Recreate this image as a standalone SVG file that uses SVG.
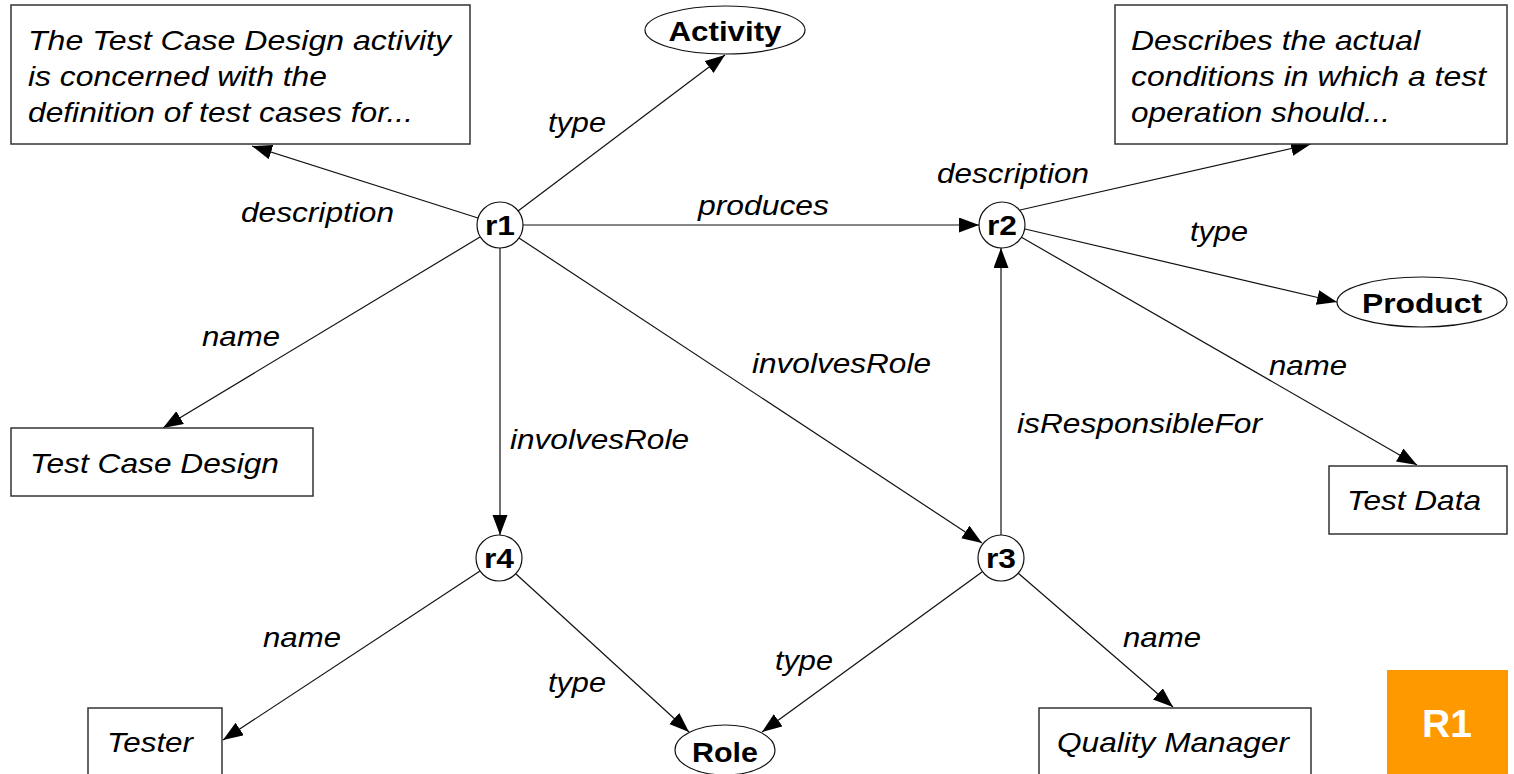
<svg xmlns="http://www.w3.org/2000/svg" width="1514" height="774" viewBox="0 0 1514 774">
<style>
.box{fill:#fff;stroke:#333;stroke-width:1.5}
.node{fill:#fff;stroke:#111;stroke-width:1.2}
.edge{stroke:#111;stroke-width:1.2;fill:none;marker-end:url(#arr)}
.t{font-family:"Liberation Sans",Arial,sans-serif;font-size:28px;font-style:italic;fill:#000}
.b{font-family:"Liberation Sans",Arial,sans-serif;font-size:28px;font-weight:bold;fill:#000}
.lbl{font-family:"Liberation Sans",Arial,sans-serif;font-size:28px;font-style:italic;fill:#000}
</style>
<defs>
<marker id="arr" markerUnits="userSpaceOnUse" markerWidth="21" markerHeight="16" refX="20" refY="7.5" orient="auto">
<path d="M0,0 L20,7.5 L0,15 z" fill="#000"/>
</marker>
</defs>
<rect width="1514" height="774" fill="#fff"/>

<g id="connectors">
<line class="edge" x1="478" y1="218" x2="252" y2="146"/>
<line class="edge" x1="518" y1="211" x2="725" y2="55"/>
<line class="edge" x1="523" y1="225" x2="979" y2="225"/>
<line class="edge" x1="480" y1="237" x2="163" y2="428"/>
<line class="edge" x1="500" y1="248" x2="500" y2="535"/>
<line class="edge" x1="519" y1="238" x2="982" y2="543"/>
<line class="edge" x1="1001" y1="535" x2="1001" y2="248"/>
<line class="edge" x1="1020" y1="210" x2="1311" y2="144"/>
<line class="edge" x1="1025" y1="229" x2="1337" y2="302"/>
<line class="edge" x1="1021" y1="237" x2="1417" y2="465"/>
<line class="edge" x1="480" y1="571" x2="223" y2="740"/>
<line class="edge" x1="516" y1="574" x2="689" y2="732"/>
<line class="edge" x1="982" y1="572" x2="762" y2="732"/>
<line class="edge" x1="1018" y1="573" x2="1173" y2="707"/>
<g id="edge-labels">
<text class="lbl" x="241" y="222" textLength="153" lengthAdjust="spacingAndGlyphs">description</text>
<text class="lbl" x="548" y="132" textLength="58" lengthAdjust="spacingAndGlyphs">type</text>
<text class="lbl" x="698" y="215" textLength="131" lengthAdjust="spacingAndGlyphs">produces</text>
<text class="lbl" x="202" y="346" textLength="78" lengthAdjust="spacingAndGlyphs">name</text>
<text class="lbl" x="510" y="449" textLength="179" lengthAdjust="spacingAndGlyphs">involvesRole</text>
<text class="lbl" x="752" y="373" textLength="179" lengthAdjust="spacingAndGlyphs">involvesRole</text>
<text class="lbl" x="937" y="183" textLength="152" lengthAdjust="spacingAndGlyphs">description</text>
<text class="lbl" x="1190" y="241" textLength="58" lengthAdjust="spacingAndGlyphs">type</text>
<text class="lbl" x="1269" y="375" textLength="78" lengthAdjust="spacingAndGlyphs">name</text>
<text class="lbl" x="1017" y="433" textLength="245" lengthAdjust="spacingAndGlyphs">isResponsibleFor</text>
<text class="lbl" x="263" y="647" textLength="78" lengthAdjust="spacingAndGlyphs">name</text>
<text class="lbl" x="548" y="692" textLength="58" lengthAdjust="spacingAndGlyphs">type</text>
<text class="lbl" x="775" y="670" textLength="58" lengthAdjust="spacingAndGlyphs">type</text>
<text class="lbl" x="1123" y="647" textLength="78" lengthAdjust="spacingAndGlyphs">name</text>
</g>
</g>

<g id="desc1">
<rect class="box" x="11" y="5" width="459" height="139"/>
<text class="t" x="28" y="50" textLength="423" lengthAdjust="spacingAndGlyphs">The Test Case Design activity</text>
<text class="t" x="28" y="86" textLength="299" lengthAdjust="spacingAndGlyphs">is concerned with the</text>
<text class="t" x="28" y="122" textLength="385" lengthAdjust="spacingAndGlyphs">definition of test cases for...</text>
</g>
<g id="activity">
<ellipse class="node" cx="725" cy="30" rx="80" ry="24"/>
<text class="b" x="725" y="41" text-anchor="middle" textLength="113" lengthAdjust="spacingAndGlyphs">Activity</text>
</g>
<g id="desc2">
<rect class="box" x="1115" y="5" width="392" height="139"/>
<text class="t" x="1131" y="50" textLength="289" lengthAdjust="spacingAndGlyphs">Describes the actual</text>
<text class="t" x="1131" y="86" textLength="355" lengthAdjust="spacingAndGlyphs">conditions in which a test</text>
<text class="t" x="1131" y="122" textLength="259" lengthAdjust="spacingAndGlyphs">operation should...</text>
</g>
<g id="r1">
<circle class="node" cx="500" cy="225" r="23"/>
<text class="b" x="500" y="235" text-anchor="middle" textLength="30" lengthAdjust="spacingAndGlyphs">r1</text>
</g>
<g id="r2">
<circle class="node" cx="1002" cy="225" r="23"/>
<text class="b" x="1002" y="235" text-anchor="middle" textLength="30" lengthAdjust="spacingAndGlyphs">r2</text>
</g>
<g id="r3">
<circle class="node" cx="1001" cy="558" r="23"/>
<text class="b" x="1001" y="568" text-anchor="middle" textLength="30" lengthAdjust="spacingAndGlyphs">r3</text>
</g>
<g id="r4">
<circle class="node" cx="499" cy="558" r="23"/>
<text class="b" x="499" y="568" text-anchor="middle" textLength="30" lengthAdjust="spacingAndGlyphs">r4</text>
</g>
<g id="product">
<ellipse class="node" cx="1422" cy="302" rx="85" ry="25"/>
<text class="b" x="1422" y="313" text-anchor="middle" textLength="120" lengthAdjust="spacingAndGlyphs">Product</text>
</g>
<g id="testcasedesign">
<rect class="box" x="11" y="428" width="302" height="68"/>
<text class="t" x="30" y="473" textLength="249" lengthAdjust="spacingAndGlyphs">Test Case Design</text>
</g>
<g id="testdata">
<rect class="box" x="1329" y="466" width="178" height="68"/>
<text class="t" x="1347" y="510" textLength="134" lengthAdjust="spacingAndGlyphs">Test Data</text>
</g>
<g id="tester">
<rect class="box" x="88" y="708" width="134" height="80"/>
<text class="t" x="107" y="752" textLength="86" lengthAdjust="spacingAndGlyphs">Tester</text>
</g>
<g id="role">
<ellipse class="node" cx="725" cy="750" rx="50" ry="25"/>
<text class="b" x="725" y="762" text-anchor="middle" textLength="66" lengthAdjust="spacingAndGlyphs">Role</text>
</g>
<g id="qualitymanager">
<rect class="box" x="1039" y="708" width="272" height="80"/>
<text class="t" x="1057" y="752" textLength="232" lengthAdjust="spacingAndGlyphs">Quality Manager</text>
</g>
<g id="badge">
<rect x="1387" y="670" width="121" height="110" fill="#ff9900"/>
<text x="1447" y="737" text-anchor="middle" font-family="Liberation Sans, Arial, sans-serif" font-size="39" font-weight="bold" fill="#fff">R1</text>
</g>
</svg>
